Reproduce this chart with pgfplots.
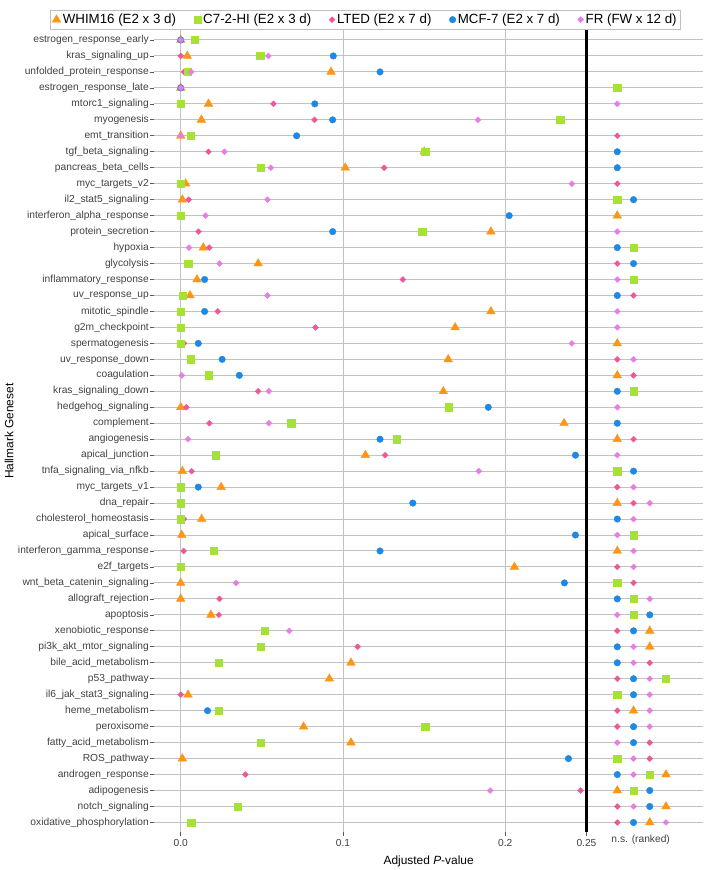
\documentclass[border=0pt]{standalone}
\usepackage{pgfplots}
\pgfplotsset{compat=1.18}
\usepackage{fontspec}
\setmainfont{Liberation Sans}
\definecolor{cW}{RGB}{252,150,20}
\definecolor{cC}{RGB}{166,226,50}
\definecolor{cL}{RGB}{240,86,152}
\definecolor{cM}{RGB}{30,136,229}
\definecolor{cF}{RGB}{232,124,232}
\pgfplotsset{
  sW/.style={only marks, mark=triangle*, mark size=5pt, mark options={draw=cW, fill=cW}},
  sC/.style={only marks, mark=square*, mark size=3.7pt, mark options={draw=cC, fill=cC}},
  sL/.style={only marks, mark=square*, mark size=2.1pt, mark options={draw=cL, fill=cL, rotate=45}},
  sM/.style={only marks, mark=*, mark size=3.3pt, mark options={draw=cM, fill=cM}},
  sF/.style={only marks, mark=square*, mark size=2.1pt, mark options={draw=cF, fill=cF, rotate=45}},
}
\begin{document}
\begin{tikzpicture}
\begin{axis}[
  scale only axis, width=553pt, height=807pt,
  xmin=-0.0165, xmax=0.322, ymin=0.4, ymax=50.6, y dir=reverse,
  axis line style={draw=none},
  xtick={0,0.1,0.2,0.25}, xticklabels={0.0,0.1,0.2,0.25},
  extra x ticks={0.2834}, extra x tick labels={n.s. (ranked)},
  extra x tick style={major tick length=0pt, grid=none},
  ytick={1,...,50},
  yticklabels={estrogen\_response\_early, kras\_signaling\_up, unfolded\_protein\_response,
    estrogen\_response\_late, mtorc1\_signaling, myogenesis, emt\_transition,
    tgf\_beta\_signaling, pancreas\_beta\_cells, myc\_targets\_v2, il2\_stat5\_signaling,
    interferon\_alpha\_response, protein\_secretion, hypoxia, glycolysis,
    inflammatory\_response, uv\_response\_up, mitotic\_spindle, g2m\_checkpoint,
    spermatogenesis, uv\_response\_down, coagulation, kras\_signaling\_down,
    hedgehog\_signaling, complement, angiogenesis, apical\_junction,
    tnfa\_signaling\_via\_nfkb, myc\_targets\_v1, dna\_repair, cholesterol\_homeostasis,
    apical\_surface, interferon\_gamma\_response, e2f\_targets,
    wnt\_beta\_catenin\_signaling, allograft\_rejection, apoptosis, xenobiotic\_response,
    pi3k\_akt\_mtor\_signaling, bile\_acid\_metabolism, p53\_pathway,
    il6\_jak\_stat3\_signaling, heme\_metabolism, peroxisome, fatty\_acid\_metabolism,
    ROS\_pathway, androgen\_response, adipogenesis, notch\_signaling,
    oxidative\_phosphorylation},
  xtick pos=lower, ytick pos=left, tick align=outside,
  major tick length=4pt, tick style={draw=gray!70!black, line width=0.7pt},
  xmajorgrids, ymajorgrids, grid style={draw=gray!48, line width=1pt},
  ticklabel style={font=\fontsize{10.3}{12}\selectfont, text=black!75},
  yticklabel style={inner xsep=1pt},
  xlabel={Adjusted \textit{P}-value}, ylabel={Hallmark Geneset},
  label style={font=\fontsize{12}{14}\selectfont},
  xlabel style={yshift=2pt},
  legend columns=5,
  legend style={at={(rel axis cs:0.385,1)}, anchor=south, yshift=1pt, draw=gray!50,
    font=\fontsize{13.4}{15}\selectfont, inner sep=2pt,
    /tikz/every even column/.append style={column sep=16pt}},
  legend image code/.code={\draw[#1] plot coordinates {(0.12cm,0cm)};},
]
\addlegendimage{sW}\addlegendentry{WHIM16 (E2 x 3 d)}
\addlegendimage{sC}\addlegendentry{C7-2-HI (E2 x 3 d)}
\addlegendimage{sL}\addlegendentry{LTED (E2 x 7 d)}
\addlegendimage{sM}\addlegendentry{MCF-7 (E2 x 7 d)}
\addlegendimage{sF}\addlegendentry{FR (FW x 12 d)}

\draw[black, line width=3.4pt] (axis cs:0.25,0.4) -- (axis cs:0.25,50.6);

% WHIM16
\addplot[sW, forget plot] coordinates {
(0,1) (0.004,2) (0.0926,3) (0,4) (0.0171,5) (0.0127,6) (0,7) (0.150,8) (0.1014,9) (0.003,10)
(0.001,11) (0.269,12) (0.1911,13) (0.0139,14) (0.0477,15) (0.010,16) (0.0057,17) (0.1911,18) (0.1691,19) (0.269,20)
(0.1648,21) (0.269,22) (0.1618,23) (0,24) (0.2362,25) (0.269,26) (0.1138,27) (0.001,28) (0.0249,29) (0.269,30)
(0.0129,31) (0.0006,32) (0.269,33) (0.2056,34) (0,35) (0,36) (0.0186,37) (0.289,38) (0.289,39) (0.1049,40)
(0.0916,41) (0.0045,42) (0.279,43) (0.0757,44) (0.1049,45) (0.001,46) (0.299,47) (0.269,48) (0.299,49) (0.289,50)
};
% LTED
\addplot[sL, forget plot] coordinates {
(0,1) (0,2) (0.002,3) (0,4) (0.0571,5) (0.0824,6) (0.269,7) (0.0171,8) (0.1253,9) (0.269,10)
(0.0049,11) (0,12) (0.011,13) (0.0176,14) (0.269,15) (0.1369,16) (0.279,17) (0.0228,18) (0.083,19) (0.002,20)
(0.269,21) (0.279,22) (0.0477,23) (0.0035,24) (0.0177,25) (0.279,26) (0.1259,27) (0.0067,28) (0.269,29) (0.279,30)
(0.002,31) (0.0018,33) (0.269,34) (0.279,35) (0.0239,36) (0.0235,37) (0.269,38) (0.109,39) (0.289,40)
(0.269,41) (0,42) (0.269,43) (0.269,44) (0.289,45) (0.289,46) (0.0398,47) (0.2464,48) (0.269,49) (0.269,50)
};
% MCF-7
\addplot[sM, forget plot] coordinates {
(0,1) (0.094,2) (0.1228,3) (0,4) (0.0826,5) (0.0936,6) (0.0714,7) (0.269,8) (0.269,9) (0,10)
(0.279,11) (0.2024,12) (0.0936,13) (0.269,14) (0.279,15) (0.0147,16) (0.269,17) (0.0147,18) (0,19) (0.0108,20)
(0.0255,21) (0.0361,22) (0.269,23) (0.1895,24) (0.269,25) (0.1228,26) (0.2432,27) (0.279,28) (0.0108,29) (0.143,30)
(0.269,31) (0.2432,32) (0.1228,33) (0,34) (0.2364,35) (0.269,36) (0.289,37) (0.279,38) (0.269,39) (0.269,40)
(0.279,41) (0.279,42) (0.0165,43) (0.279,44) (0.279,45) (0.2389,46) (0.269,47) (0.289,48) (0.289,49) (0.279,50)
};
% C7-2-HI
\addplot[sC, forget plot] coordinates {
(0.0086,1) (0.049,2) (0.0043,3) (0.269,4) (0,5) (0.2338,6) (0.0063,7) (0.1506,8) (0.0491,9) (0,10)
(0.269,11) (0,12) (0.1487,13) (0.279,14) (0.0047,15) (0.279,16) (0.0012,17) (0,18) (0,19) (0,20)
(0.0061,21) (0.0171,22) (0.279,23) (0.1652,24) (0.0681,25) (0.1332,26) (0.0216,27) (0.269,28) (0,29) (0,30)
(0,31) (0.279,32) (0.0202,33) (0,34) (0.269,35) (0.279,36) (0.279,37) (0.0518,38) (0.0491,39) (0.0233,40)
(0.299,41) (0.269,42) (0.0233,43) (0.1506,44) (0.0491,45) (0.269,46) (0.289,47) (0.279,48) (0.0349,49) (0.0065,50)
};
% FR
\addplot[sF, forget plot] coordinates {
(0,1) (0.054,2) (0.0065,3) (0,4) (0.269,5) (0.1832,6) (0,7) (0.0269,8) (0.0555,9) (0.241,10)
(0.0534,11) (0.0153,12) (0.269,13) (0.0051,14) (0.0239,15) (0.269,16) (0.0534,17) (0.269,18) (0.269,19) (0.241,20)
(0.279,21) (0.0006,22) (0.0543,23) (0.269,24) (0.0543,25) (0.0045,26) (0.269,27) (0.1836,28) (0.279,29) (0.289,30)
(0.279,31) (0.269,32) (0.279,33) (0.279,34) (0.0341,35) (0.289,36) (0.269,37) (0.0669,38) (0.279,39) (0.279,40)
(0.289,41) (0.289,42) (0.289,43) (0.289,44) (0.269,45) (0.279,46) (0.279,47) (0.1907,48) (0.279,49) (0.299,50)
};
\end{axis}
\path (current axis.south west) ++(-155pt,-32.4pt) rectangle ++(709pt,870pt);
\end{tikzpicture}
\end{document}
